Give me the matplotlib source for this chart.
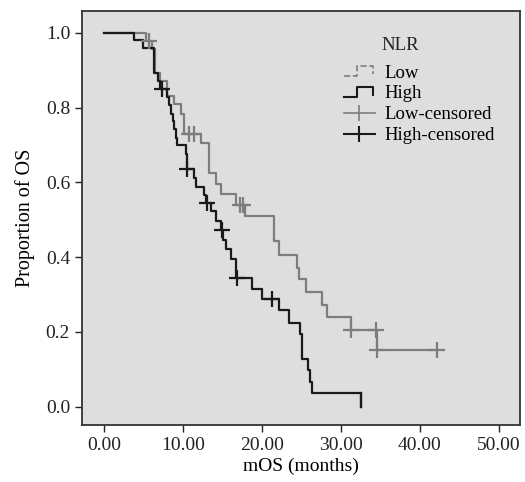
import matplotlib
matplotlib.use("Agg")
import matplotlib.pyplot as plt
from matplotlib.lines import Line2D
from matplotlib.legend_handler import HandlerBase

# survival steps (months, proportion after the step)
low_t = [0, 5.27, 6.0, 6.4, 7.08, 8.01, 8.85, 9.69, 10.11, 12.22, 13.27, 14.11,
         14.83, 16.64, 17.9, 21.57, 22.2, 24.44, 24.73, 25.61, 27.6, 28.23,
         31.26, 34.62, 42.2]
low_s = [1.0, 0.978, 0.957, 0.892, 0.871, 0.831, 0.81, 0.783, 0.729, 0.704,
         0.624, 0.596, 0.569, 0.540, 0.509, 0.443, 0.407, 0.372, 0.341, 0.307,
         0.271, 0.240, 0.204, 0.153, 0.153]
low_cens_t = [5.65, 10.74, 11.37, 17.18, 17.61, 31.26, 34.42, 34.62, 42.2]
low_cens_s = [0.978, 0.729, 0.729, 0.540, 0.540, 0.204, 0.204, 0.153, 0.153]

high_t = [0, 3.79, 4.98, 6.32, 6.82, 7.08, 7.92, 8.21, 8.52, 8.72, 8.87, 9.06,
          9.27, 10.32, 10.54, 11.37, 11.59, 12.64, 12.85, 13.48, 14.11, 14.83,
          15.09, 15.38, 16.1, 16.64, 18.75, 20.01, 22.2, 23.38, 24.77, 25.07,
          25.78, 26.12, 26.33, 32.52]
high_s = [1.0, 0.980, 0.958, 0.893, 0.871, 0.851, 0.829, 0.806, 0.784, 0.765,
          0.742, 0.72, 0.70, 0.677, 0.636, 0.612, 0.589, 0.565, 0.544, 0.523,
          0.498, 0.473, 0.446, 0.422, 0.396, 0.344, 0.316, 0.289, 0.258, 0.224,
          0.194, 0.129, 0.098, 0.067, 0.036, 0.0]
high_cens_t = [7.38, 10.54, 13.04, 14.96, 16.77, 21.28]
high_cens_s = [0.851, 0.636, 0.544, 0.473, 0.344, 0.289]

labels = ["Low", "High", "Low-censored", "High-censored"]
xticks = [0, 10, 20, 30, 40, 50]
yticks = [0.0, 0.2, 0.4, 0.6, 0.8, 1.0]

low_col = "#7d7d7d"
high_col = "#1a1a1a"

plt.rcParams["font.family"] = ["Liberation Serif", "DejaVu Serif"]


class StepHandler(HandlerBase):
    # legend glyph drawn as a small step, like the survival curve
    def create_artists(self, legend, orig_handle, xdescent, ydescent,
                       width, height, fontsize, trans):
        fx = [0, 0.42, 0.42, 0.95, 0.95]
        fy = [0.1, 0.1, 0.85, 0.85, 0.25]
        xs = [f * width - xdescent for f in fx]
        ys = [f * height - ydescent for f in fy]
        ln = Line2D(xs, ys, color=orig_handle.get_color(),
                    linestyle=orig_handle.get_linestyle(),
                    linewidth=orig_handle.get_linewidth())
        ln.set_transform(trans)
        return [ln]


fig = plt.figure(figsize=(5.25, 4.82), dpi=100)
ax = fig.add_axes([0.156, 0.118, 0.834, 0.859])
ax.set_facecolor("#dedede")

ax.step(low_t, low_s, where="post", color=low_col, lw=1.6)
ax.step(high_t, high_s, where="post", color=high_col, lw=1.6)
ax.plot([high_t[-1], high_t[-1]], [high_s[-2], high_s[-1]], color=high_col, lw=1.6)
ax.plot(low_cens_t, low_cens_s, "+", color=low_col, ms=11, mew=1.6)
ax.plot(high_cens_t, high_cens_s, "+", color=high_col, ms=11, mew=1.6)

ax.set_xlim(-2.82, 52.65)
ax.set_ylim(-0.049, 1.058)
ax.set_xticks(xticks)
ax.set_xticklabels(["%.2f" % v for v in xticks])
ax.set_yticks(yticks)
ax.set_yticklabels(["%.1f" % v for v in yticks])
ax.tick_params(direction="out", length=5, width=1, labelsize=14, colors="#222222")
for s in ax.spines.values():
    s.set_linewidth(1.3)
    s.set_color("#333333")
ax.set_xlabel("mOS (months)", fontsize=14, labelpad=3)
ax.set_ylabel("Proportion of OS", fontsize=14.5, labelpad=8)

handles = [
    Line2D([], [], color=low_col, linestyle="--", lw=1.2),
    Line2D([], [], color=high_col, linestyle="-", lw=1.5),
    Line2D([], [], color=low_col, marker="|", ms=11, lw=1.2, mew=1.2),
    Line2D([], [], color=high_col, marker="|", ms=11, lw=1.5, mew=1.5),
]
leg = ax.legend(handles, labels, loc="upper left", bbox_to_anchor=(0.56, 0.912),
                frameon=False, fontsize=13.5, handlelength=1.65, handletextpad=0.5,
                labelspacing=0.2,
                handler_map={handles[0]: StepHandler(), handles[1]: StepHandler()})
ax.text(0.685, 0.918, "NLR", transform=ax.transAxes, fontsize=13.5,
        color="#222222", va="center", ha="left")

fig.savefig("out.png", dpi=100)
